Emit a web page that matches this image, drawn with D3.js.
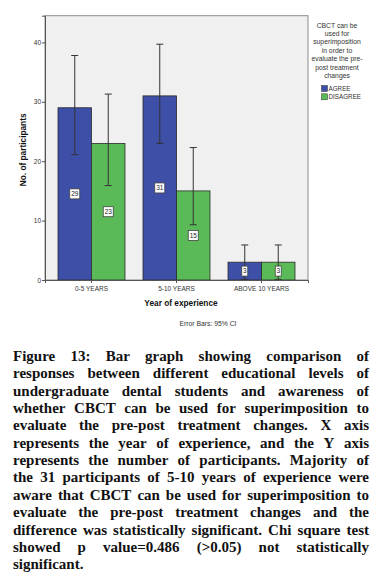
<!DOCTYPE html>
<html lang="en">
<head>
<meta charset="utf-8">
<title>Figure 13</title>
<style>
  html, body { margin: 0; padding: 0; background: #fff; }
  svg { display: block; }
  .sans { font-family: "Liberation Sans", Arial, sans-serif; }
</style>
</head>
<body>
<script src="https://d3js.org/d3.v7.min.js"></script>
<script>
// data
const categories = ["0-5 YEARS", "5-10 YEARS", "ABOVE 10 YEARS"];
const seriesNames = ["AGREE", "DISAGREE"];
const agree = [29, 31, 3];
const disagree = [23, 15, 3];
const agreeLow = [21.1, 23.0, 0.1];
const agreeHigh = [37.8, 39.7, 5.9];
const disagreeLow = [15.9, 9.3, 0.1];
const disagreeHigh = [31.3, 22.3, 5.9];
const yTicks = [0, 10, 20, 30, 40];
const legendTitle = ["CBCT can be", "used for", "superimposition", "in order to",
                     "evaluate the pre-", "post treatment", "changes"];
const captionLines = [
  "Figure 13: Bar graph showing comparison of",
  "responses between different educational levels of",
  "undergraduate dental students and awareness of",
  "whether CBCT can be used for superimposition to",
  "evaluate the pre-post treatment changes. X axis",
  "represents the year of experience, and the Y axis",
  "represents the number of participants. Majority of",
  "the 31 participants of 5-10 years of experience were",
  "aware that CBCT can be used for superimposition to",
  "evaluate the pre-post treatment changes and the",
  "difference was statistically significant. Chi square test",
  "showed p value=0.486 (>0.05) not statistically",
  "significant."
];

const W = 380, H = 579;
const colors = ["#3d4fa6", "#5bba58"];

const svg = d3.select("body").append("svg")
  .attr("width", W).attr("height", H);

svg.append("rect").attr("width", W).attr("height", H).attr("fill", "#fff");

// plot area
const pLeft = 45, pRight = 308, pTop = 15.7, pBottom = 280;

const x = d3.scaleBand()
  .domain(categories)
  .range([pLeft, pRight])
  .paddingInner(0.212)
  .paddingOuter(0.153);

const xs = d3.scaleBand()
  .domain(seriesNames)
  .range([0, x.bandwidth()]);

const y = d3.scaleLinear()
  .domain([0, 44.5])
  .range([pBottom, pTop]);

svg.append("rect")
  .attr("x", pLeft).attr("y", pTop)
  .attr("width", pRight - pLeft).attr("height", pBottom - pTop)
  .attr("fill", "#f0f0f0")
  .attr("stroke", "#8c8c8c").attr("stroke-width", 1);

const rows = categories.map((c, i) => [
  { cat: c, s: "AGREE", v: agree[i], lo: agreeLow[i], hi: agreeHigh[i], k: 0 },
  { cat: c, s: "DISAGREE", v: disagree[i], lo: disagreeLow[i], hi: disagreeHigh[i], k: 1 }
]).flat();

// bars
svg.append("g").selectAll("rect")
  .data(rows)
  .join("rect")
  .attr("x", d => x(d.cat) + xs(d.s))
  .attr("y", d => y(d.v))
  .attr("width", xs.bandwidth())
  .attr("height", d => y(0) - y(d.v))
  .attr("fill", d => colors[d.k])
  .attr("stroke", "#2b2b2b").attr("stroke-width", 0.8);

// error bars
const eb = svg.append("g").attr("stroke", "#333").attr("stroke-width", 1);
rows.forEach(d => {
  const cx = x(d.cat) + xs(d.s) + xs.bandwidth() / 2;
  eb.append("line").attr("x1", cx).attr("x2", cx).attr("y1", y(d.lo)).attr("y2", y(d.hi));
  eb.append("line").attr("x1", cx - 3.5).attr("x2", cx + 3.5).attr("y1", y(d.hi)).attr("y2", y(d.hi));
  eb.append("line").attr("x1", cx - 3.5).attr("x2", cx + 3.5).attr("y1", y(d.lo)).attr("y2", y(d.lo));
});

// value labels
const lab = svg.append("g").attr("class", "sans");
rows.forEach(d => {
  const cx = x(d.cat) + xs(d.s) + xs.bandwidth() / 2;
  const cy = y(d.v / 2);
  const bw = String(d.v).length > 1 ? 10 : 6;
  lab.append("rect").attr("x", cx - bw / 2).attr("y", cy - 5)
    .attr("width", bw).attr("height", 10)
    .attr("fill", "#fff").attr("stroke", "#444").attr("stroke-width", 0.8);
  lab.append("text").attr("x", cx).attr("y", cy + 2.3)
    .attr("text-anchor", "middle").attr("font-size", 6.5).attr("fill", "#222")
    .text(d.v);
});

// axes
const yAxis = svg.append("g")
  .attr("class", "sans")
  .attr("transform", `translate(${pLeft},0)`)
  .call(d3.axisLeft(y).tickValues(yTicks).tickSize(3).tickPadding(1));
const xAxis = svg.append("g")
  .attr("class", "sans")
  .attr("transform", `translate(0,${pBottom})`)
  .call(d3.axisBottom(x).tickSize(3).tickPadding(3));
[yAxis, xAxis].forEach(g => {
  g.select(".domain").attr("stroke", "#555");
  g.selectAll(".tick line").attr("stroke", "#555");
  g.selectAll("text").attr("font-size", 6.5).attr("fill", "#333")
    .attr("font-family", "Liberation Sans, Arial, sans-serif");
});

// axis titles
svg.append("text").attr("class", "sans")
  .attr("transform", `translate(26,${(pTop + pBottom) / 2 + 2}) rotate(-90)`)
  .attr("text-anchor", "middle").attr("font-size", 8.3).attr("font-weight", "bold")
  .attr("fill", "#111")
  .text("No. of participants");

svg.append("text").attr("class", "sans")
  .attr("x", 181).attr("y", 306)
  .attr("text-anchor", "middle").attr("font-size", 8.3).attr("font-weight", "bold")
  .attr("fill", "#111")
  .text("Year of experience");

svg.append("text").attr("class", "sans")
  .attr("x", 208).attr("y", 326)
  .attr("text-anchor", "middle").attr("font-size", 6.8).attr("fill", "#333")
  .text("Error Bars: 95% CI");

// legend
const lg = svg.append("g").attr("class", "sans");
legendTitle.forEach((t, i) => {
  lg.append("text").attr("x", 337).attr("y", 27.5 + i * 8.4)
    .attr("text-anchor", "middle").attr("font-size", 6.8).attr("fill", "#333")
    .text(t);
});
seriesNames.forEach((s, i) => {
  lg.append("rect").attr("x", 321.5).attr("y", 85.5 + i * 8.3)
    .attr("width", 6).attr("height", 6)
    .attr("fill", colors[i]).attr("stroke", "#333").attr("stroke-width", 0.5);
  lg.append("text").attr("x", 328.5).attr("y", 90.8 + i * 8.3)
    .attr("font-size", 6.3).attr("fill", "#333")
    .text(s);
});

// caption, justified line by line
const capLeft = 13, capRight = 369, capW = capRight - capLeft;
const cap = svg.append("g")
  .attr("font-family", "'Liberation Serif', 'DejaVu Serif', serif")
  .attr("font-weight", "bold").attr("fill", "#111");

// pick a font size so the tightest line fits
const probe = cap.append("text").attr("font-size", 15).text(captionLines[10]);
const fs = Math.min(15, 15 * (capW - 2) / probe.node().getComputedTextLength());
probe.remove();

captionLines.forEach((line, i) => {
  const by = 361 + i * 17.35;
  const words = line.split(" ");
  const nodes = words.map(w => cap.append("text").attr("font-size", fs).attr("y", by).text(w));
  const widths = nodes.map(n => n.node().getComputedTextLength());
  const total = d3.sum(widths);
  const last = i === captionLines.length - 1;
  const gap = last || words.length < 2 ? fs * 0.25 : (capW - total) / (words.length - 1);
  let cx = capLeft;
  nodes.forEach((n, j) => { n.attr("x", cx); cx += widths[j] + gap; });
});
</script>
</body>
</html>
